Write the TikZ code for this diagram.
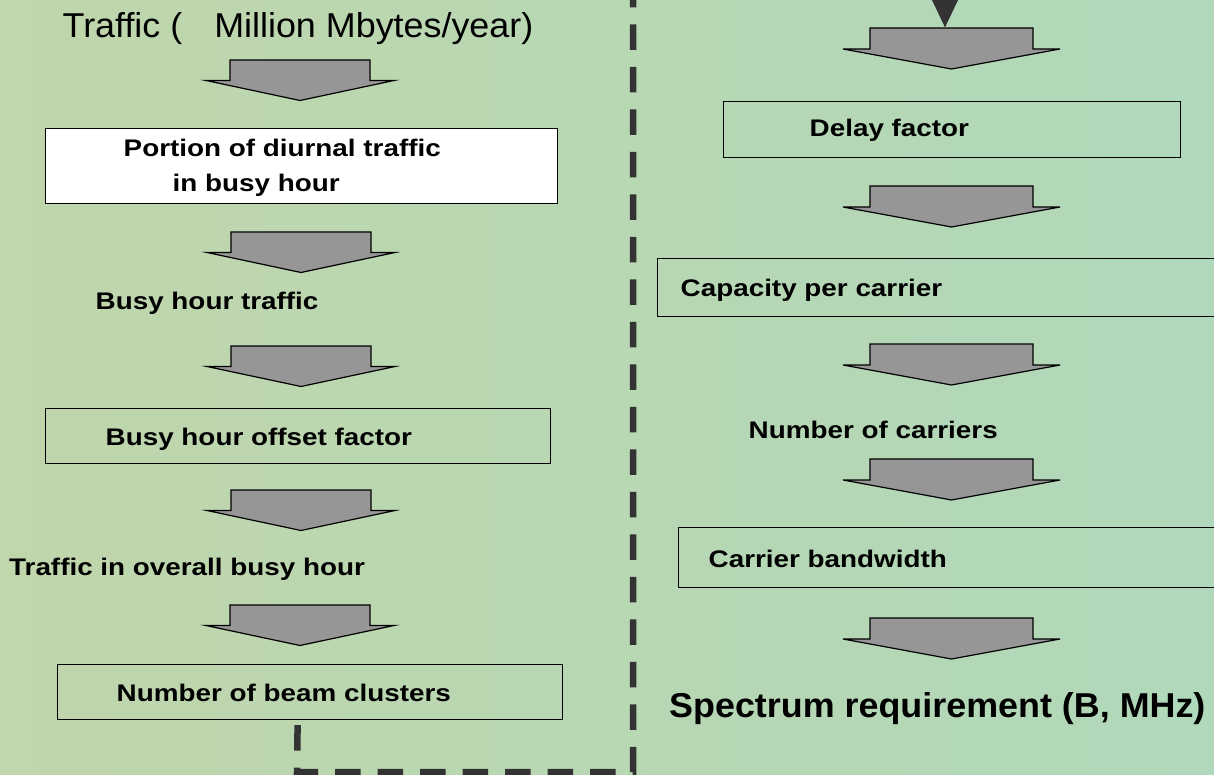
\documentclass[tikz,border=0pt]{standalone}
\usepackage{fontspec}
\setmainfont{Liberation Sans}
\newfontfamily\widesans[FakeStretch=1.16]{Liberation Sans}
\newfontfamily\bigsans[FakeStretch=1.04]{Liberation Sans}
\usetikzlibrary{arrows.meta}

\definecolor{bgL}{RGB}{192,214,172}
\definecolor{bgR}{RGB}{176,216,186}
\definecolor{arrowgray}{RGB}{150,150,150}
\definecolor{dashgray}{RGB}{51,51,51}

\tikzset{
  blockarr/.style={draw=black, line width=1.2pt, fill=arrowgray, line join=miter},
  larrow/.pic={
    \draw[blockarr] (-70,0) -- (70,0) -- (70,20.5) -- (94,20.5) -- (0,40.5)
      -- (-94,20.5) -- (-70,20.5) -- cycle;
    \coordinate (-top) at (0,0);
  },
  rarrow/.pic={
    \draw[blockarr] (-81.5,0) -- (81.5,0) -- (81.5,21) -- (108.5,21) -- (0,41)
      -- (-108.5,21) -- (-81.5,21) -- cycle;
    \coordinate (-top) at (0,0);
  },
  box/.style={draw=black, line width=1.2pt, inner sep=0pt, anchor=north west},
  lbl/.style={anchor=base west, inner sep=0pt,
    font=\widesans\bfseries\fontsize{24}{35}\selectfont},
  bigbold/.style={anchor=base west, inner sep=0pt,
    font=\bigsans\bfseries\fontsize{34.5}{40}\selectfont},
  bigreg/.style={anchor=base west, inner sep=0pt,
    font=\bigsans\fontsize{34.5}{40}\selectfont},
  dashconn/.style={draw=dashgray, line width=6.5pt, dash pattern=on 25.5pt off 17pt,
    -{Triangle[length=30pt,width=26pt]}, line join=miter},
}

\begin{document}
\begin{tikzpicture}[x=1pt,y=-1pt]
\useasboundingbox (0,0) rectangle (1214,775);
\clip (0,0) rectangle (1214,775);
\shade[left color=bgL, right color=bgR] (0,0) rectangle (1214,775);

% ---------- left column ----------
\node[bigreg] (title) at (62.5,38) {Traffic (\hspace*{32pt}Million Mbytes/year)};
\pic (a1) at (300,60) {larrow};
\node[box, fill=white, minimum width=512pt, minimum height=75pt] (b1) at (45,128) {};
\node[lbl] (t1) at (123.5,157)
  {\vtop{\hbox{Portion of diurnal traffic}\hbox{\hspace*{49pt}in busy hour}}};
\pic (a2) at (301,232) {larrow};
\node[lbl] (t2) at (95.5,309) {Busy hour traffic};
\pic (a3) at (301,346) {larrow};
\node[box, minimum width=505pt, minimum height=55pt] (b2) at (45,408) {};
\node[lbl] (t3) at (105.5,445.5) {Busy hour offset factor};
\pic (a4) at (301,490) {larrow};
\node[lbl] (t4) at (9,575) {Traffic in overall busy hour};
\pic (a5) at (300,605) {larrow};
\node[box, minimum width=505pt, minimum height=55pt] (b3) at (57,664) {};
\node[lbl] (t5) at (116.5,701) {Number of beam clusters};

% ---------- right column ----------
\pic (a6) at (951.5,28) {rarrow};
\node[box, minimum width=457pt, minimum height=56pt] (r1) at (723,101) {};
\node[lbl] (u1) at (809.5,137) {Delay factor};
\pic (a7) at (951.5,186) {rarrow};
\node[box, minimum width=600pt, minimum height=58pt] (r2) at (657,258) {};
\node[lbl] (u2) at (680.5,296.5) {Capacity per carrier};
\pic (a8) at (951.5,344) {rarrow};
\node[lbl] (u3) at (748.5,438.5) {Number of carriers};
\pic (a9) at (951.5,459) {rarrow};
\node[box, minimum width=600pt, minimum height=60pt] (r3) at (678,527) {};
\node[lbl] (u4) at (708.5,567) {Carrier bandwidth};
\pic (a10) at (951.5,618) {rarrow};
\node[bigbold] (spec) at (669,717) {Spectrum requirement (B, MHz)};

% ---------- dashed connector ----------
\coordinate (dstart) at ([xshift=-12.5pt,yshift=-5pt]b3.south);
\coordinate (dend) at ([xshift=-6.5pt]a6-top);
\draw[dashconn] (dstart) -- (297,772) -- (633,772) -- (633,-40) -- (945,-40) -- (dend);
\end{tikzpicture}
\end{document}
